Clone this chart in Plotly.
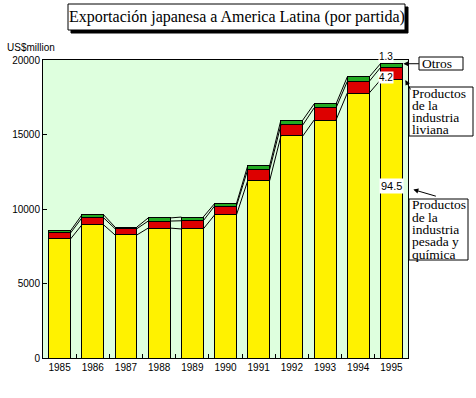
import plotly.graph_objects as go

years = ["1985", "1986", "1987", "1988", "1989", "1990", "1991", "1992", "1993", "1994", "1995"]
heavy = [7990, 8930, 8260, 8720, 8660, 9600, 11900, 14900, 15970, 17780, 18660]
light = [400, 470, 420, 470, 550, 600, 740, 740, 810, 780, 830]
others = [150, 200, 110, 210, 250, 160, 260, 330, 270, 300, 260]
share_labels = ["1.3", "4.2", "94.5"]
series_names = ["Productos de la industria pesada y química",
                "Productos de la industria liviana", "Otros"]
callout_lines = [["Otros"],
                 ["Productos", "de la", "industria", "liviana"],
                 ["Productos", "de la", "industria", "pesada y", "química"]]
y_ticks = [0, 5000, 10000, 15000, 20000]

W, H = 476, 398
ML, MR, MT, MB = 43, 68, 60, 40
BW = 0.66
PW, PH = W - ML - MR, H - MT - MB


def px(x):
    return (x - ML) / PW


def py(y):
    return (H - MB - y) / PH


xs = list(range(len(years)))
fig = go.Figure()
colors = ["#FFF200", "#DD0000", "#22AA22"]
for name, vals, col in zip(series_names, [heavy, light, others], colors):
    fig.add_trace(go.Bar(x=xs, y=vals, name=name, width=BW,
                         marker=dict(color=col, line=dict(color="black", width=1))))

# connector lines between bars at each segment top
lvl1 = heavy
lvl2 = [h + l for h, l in zip(heavy, light)]
lvl3 = [h + l + o for h, l, o in zip(heavy, light, others)]
for lv in (lvl1, lvl2, lvl3):
    for i in range(len(xs) - 1):
        fig.add_shape(type="line", xref="x", yref="y",
                      x0=xs[i] + BW / 2, y0=lv[i], x1=xs[i + 1] - BW / 2, y1=lv[i + 1],
                      line=dict(color="black", width=1), layer="above")

SERIF = "Liberation Serif, DejaVu Serif, serif"
nfont = dict(family="Liberation Sans, Arial, sans-serif", size=10, color="black")
last = len(xs) - 1

# share labels
fig.add_annotation(x=last - 0.17, y=lvl3[last], yshift=7, text=share_labels[0], showarrow=False,
                   bgcolor="white", font=nfont, borderpad=0, xanchor="center", yanchor="middle")
fig.add_annotation(x=last - 0.17, y=lvl2[last], yshift=-10, text=share_labels[1], showarrow=False,
                   bgcolor="white", font=nfont, borderpad=0, xanchor="center", yanchor="middle")
fig.add_annotation(x=last, y=11570, text=share_labels[2], showarrow=False,
                   bgcolor="white", font=dict(family="Liberation Sans, Arial, sans-serif", size=11, color="black"),
                   borderpad=1, xanchor="center", yanchor="middle")

# callout boxes (pixel layout positions) with one text row per line
boxes = [(419, 57, 463, 70), (409, 87, 473, 136), (409, 199, 468, 260)]
LINE = 12.3
for (x0, y0, x1, y1), lines in zip(boxes, callout_lines):
    fig.add_shape(type="rect", xref="paper", yref="paper",
                  x0=px(x0), y0=py(y1), x1=px(x1), y1=py(y0),
                  line=dict(color="black", width=1), fillcolor="white", layer="above")
    first = (y0 + y1) / 2 - LINE * (len(lines) - 1) / 2
    for k, t in enumerate(lines):
        fig.add_annotation(xref="paper", yref="paper", x=px(x0 + 2), y=py(first + k * LINE),
                           text=t, showarrow=False, xanchor="left", yanchor="middle",
                           borderpad=0, font=dict(family=SERIF, size=13.5, color="black"))

arrow = dict(text="", showarrow=True, arrowhead=2, arrowsize=1, arrowwidth=1,
             arrowcolor="black", standoff=0)
fig.add_annotation(x=last + BW / 2, xshift=1, y=lvl3[last], ax=17, ay=0, **arrow)
fig.add_annotation(x=last + BW / 2, xshift=3, y=lvl1[last], ax=6, ay=11, **arrow)
fig.add_annotation(x=last + BW / 2, xshift=11, y=11570, yshift=-4, ax=24, ay=7, **arrow)

# title box with drop shadow
title = "Exportación japanesa a America Latina (por partida)"
tfont = dict(family=SERIF, size=16, color="black")
TX0, TY0, TX1, TY1 = 68, 4, 405, 30
fig.add_shape(type="rect", xref="paper", yref="paper",
              x0=px(TX0 + 3), y0=py(TY1 + 3), x1=px(TX1 + 3), y1=py(TY0 + 3),
              line=dict(color="black", width=1), fillcolor="black", layer="above")
fig.add_shape(type="rect", xref="paper", yref="paper",
              x0=px(TX0), y0=py(TY1), x1=px(TX1), y1=py(TY0),
              line=dict(color="black", width=1), fillcolor="white", layer="above")
fig.add_annotation(xref="paper", yref="paper", x=px((TX0 + TX1) / 2), y=py((TY0 + TY1) / 2),
                   text=title, showarrow=False, xanchor="center", yanchor="middle",
                   borderpad=0, font=tfont)

# y unit
fig.add_annotation(xref="paper", yref="paper", x=px(5), y=py(47), text="US$million",
                   showarrow=False, xanchor="left", yanchor="middle", font=nfont)

fig.update_layout(
    width=W, height=H, margin=dict(l=ML, r=MR, t=MT, b=MB),
    barmode="stack", showlegend=False,
    plot_bgcolor="#DEFFDE", paper_bgcolor="white",
    xaxis=dict(range=[-0.5, len(xs) - 0.5], tickvals=xs, ticktext=years, ticks="",
               showgrid=False, zeroline=False, showline=True, linecolor="black", linewidth=1,
               mirror=True, tickfont=nfont,
               minor=dict(tickvals=[i + 0.5 for i in xs[:-1]], ticks="inside", ticklen=4,
                          tickcolor="black", showgrid=False)),
    yaxis=dict(range=[0, 20000], tickvals=y_ticks, ticktext=[str(v) for v in y_ticks],
               ticks="inside", ticklen=4, tickcolor="black",
               showgrid=False, zeroline=False, showline=True, linecolor="black", linewidth=1,
               mirror=True, tickfont=nfont),
)
fig.write_html("out.html", config={"displayModeBar": False},
               post_script="document.body.style.margin='0';document.body.style.overflow='hidden';")
